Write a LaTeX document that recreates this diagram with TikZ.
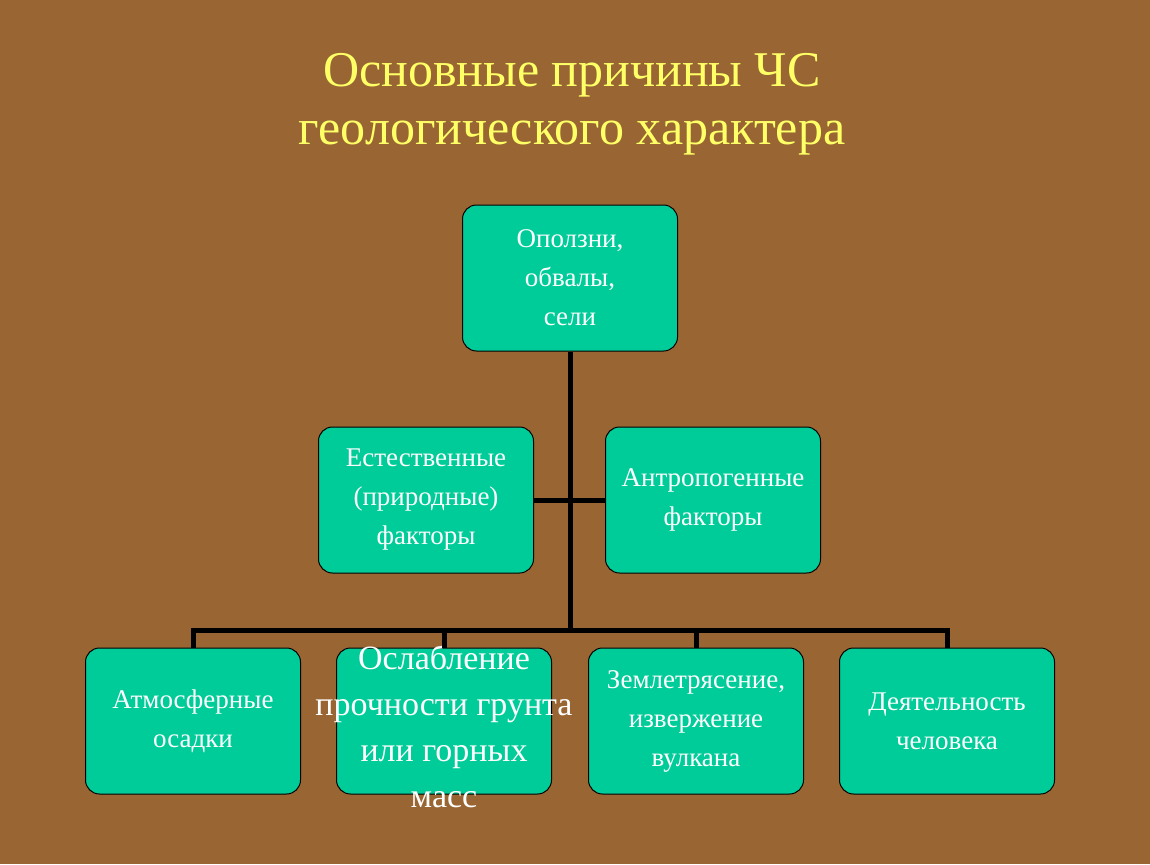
\documentclass[tikz,border=0pt]{standalone}
\usepackage{fontspec}
\setmainfont{Liberation Serif}
\definecolor{bgbrown}{RGB}{153,102,51}
\definecolor{boxteal}{RGB}{0,204,153}
\definecolor{titleyellow}{RGB}{255,255,102}
\tikzset{
  factbox/.style={draw=black, fill=boxteal, rounded corners=14pt, line width=1pt,
    minimum width=215pt, minimum height=146pt, text=white, align=center,
    font=\fontsize{27}{39}\selectfont},
  link/.style={line width=5pt, black}
}
\begin{document}
\begin{tikzpicture}[x=1pt,y=-1pt]
\fill[bgbrown] (0,0) rectangle (1150,864);
\useasboundingbox (0,0) rectangle (1150,864);

%Title
\node[text=titleyellow, align=center, font=\fontsize{50}{58}\selectfont] (title) at (572,104)
  {Основные причины ЧС\\геологического характера};

%Top box
\node[factbox] (slide) at (570,278) {Оползни,\\обвалы,\\сели};

%Middle boxes
\node[factbox] (natural) at (426,500) {Естественные\\(природные)\\факторы};
\node[factbox] (human) at (713,500) {Антропогенные\\факторы};

%Bottom boxes
\node[factbox] (rain) at (193,721) {Атмосферные\\осадки};
\node[factbox] (soil) at (444,721) {};
\node[text=white, align=center, font=\fontsize{34}{46}\selectfont] (soiltext) at (444,726)
  {Ослабление\\прочности грунта\\или горных\\масс};
\node[factbox] (quake) at (696,721) {Землетрясение,\\извержение\\вулкана};
\node[factbox] (activity) at (947,721) {Деятельность\\человека};

%Connectors
\coordinate (hub) at (570,630);
\draw[link] (natural.east) -- (human.west);
\draw[link] (slide.south) -- (hub);
\draw[link] (rain.north) |- (hub) -| (activity.north);
\draw[link] (soil.north) -- (soil.north |- hub);
\draw[link] (quake.north) -- (quake.north |- hub);
\end{tikzpicture}
\end{document}
